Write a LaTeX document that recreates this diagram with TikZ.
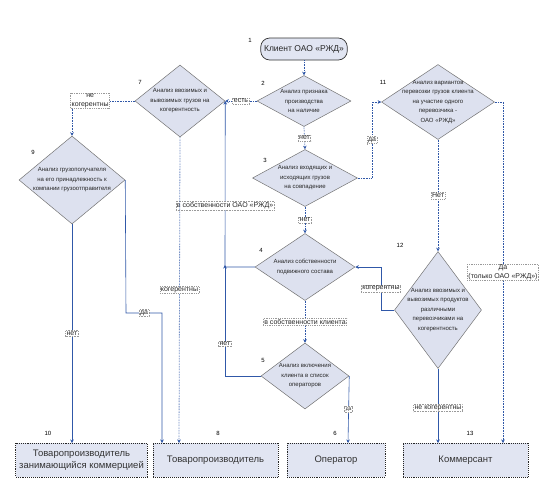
\documentclass[tikz,border=0pt]{standalone}
\usepackage{fontspec}
\setmainfont{Liberation Sans}
\usetikzlibrary{shapes.geometric,arrows.meta}
\definecolor{lineblue}{RGB}{48,88,168}
\definecolor{diafill}{RGB}{221,225,239}
\definecolor{boxfill}{RGB}{225,229,242}
\tikzset{
  dia/.style={diamond, draw=black!55, fill=diafill, line width=0.5pt, inner sep=0pt, aspect=1},
  dtext/.style={font=\fontsize{6}{9.5}\selectfont, align=center, inner sep=0pt, text=black!85},
  endbox/.style={rectangle, draw=black!85, densely dotted, line width=0.9pt, fill=boxfill, font=\fontsize{9.5}{12}\selectfont, align=center, text=black!80},
  startbox/.style={rectangle, rounded corners=9pt, draw=black!80, line width=0.7pt, fill=boxfill, font=\fontsize{8.5}{10}\selectfont, text=black!85},
  num/.style={font=\fontsize{6}{7}\selectfont, inner sep=0pt},
  lbl/.style={draw=black!40, densely dotted, fill=white, font=\fontsize{7}{8.5}\selectfont, inner sep=1pt, align=center, text=black!85},
  sl/.style={draw=lineblue, line width=0.6pt, -{Stealth[length=3.5pt,width=3.5pt]}},
  dl/.style={sl, densely dotted, line width=0.8pt},
}
\begin{document}
\begin{tikzpicture}[x=1pt,y=-1pt]
\useasboundingbox (0,0) rectangle (544,480);

% start node
\node[startbox, minimum width=84pt, minimum height=22pt] (n1) at (304,49) {Клиент ОАО «РЖД»};

% diamonds
\node[dia, minimum width=94pt, minimum height=51pt] (d2) at (304,101) {};
\node[dtext] at (d2) {Анализ признака\\производства\\на наличие};

\node[dia, minimum width=90pt, minimum height=72pt] (d7) at (180,101) {};
\node[dtext] at (d7) {Анализ ввозимых и\\вывозимых грузов на\\когерентность};

\node[dia, minimum width=105pt, minimum height=57pt] (d3) at (305,178) {};
\node[dtext] at (d3) {Анализ входящих и\\исходящих грузов\\на совпадение};

\node[dia, minimum width=113pt, minimum height=75pt] (d11) at (438,102) {};
\node[dtext] at (d11) {Анализ вариантов\\перевозки грузов клиента\\на участие одного\\перевозчика -\\ОАО «РЖД»};

\node[dia, minimum width=106pt, minimum height=88pt] (d9) at (72,180) {};
\node[dtext] at (d9) {Анализ грузополучателя\\на его принадлежность к\\компании грузоотправителя};

\node[dia, minimum width=100pt, minimum height=67pt] (d4) at (305,267) {};
\node[dtext] at (d4) {Анализ собственности\\подвижного состава};

\node[dia, minimum width=87pt, minimum height=117pt] (d12) at (438,310) {};
\node[dtext] at (d12) {Анализ ввозимых и\\вывозимых продуктов\\различными\\перевозчиками на\\когерентность};

\node[dia, minimum width=88pt, minimum height=66pt] (d5) at (305,376) {};
\node[dtext] at (d5) {Анализ включения\\клиента в список\\операторов};

% end boxes
\node[endbox, minimum width=125pt, minimum height=34pt] (b10) at (81.5,460) {Товаропроизводитель\\занимающийся коммерцией};
\node[endbox, minimum width=125pt, minimum height=34pt] (b8) at (215.5,460) {Товаропроизводитель};
\node[endbox, minimum width=98pt, minimum height=34pt] (b6) at (336,460) {Оператор};
\node[endbox, minimum width=125pt, minimum height=34pt] (b13) at (465.5,460) {Коммерсант};

% numbers
\node[num] (l1) at (250,40) {1};
\node[num] (l2) at (263,83) {2};
\node[num] (l3) at (265,160) {3};
\node[num] (l4) at (261,250) {4};
\node[num] (l5) at (263,360) {5};
\node[num] (l6) at (335,433) {6};
\node[num] (l7) at (140,82) {7};
\node[num] (l8) at (218,433) {8};
\node[num] (l9) at (33,152) {9};
\node[num] (l10) at (48,433) {10};
\node[num] (l11) at (383,82) {11};
\node[num] (l12) at (400,245) {12};
\node[num] (l13) at (470,433) {13};

% helper coordinates
\coordinate (c3r) at (372,178);
\coordinate (c11r) at (503,102);
\coordinate (c12l) at (381,310);
\coordinate (c4l) at (225,267);
\coordinate (c5l) at (225,376);
\coordinate (c7l) at (72,101);
\coordinate (c9r) at (126,313);
\coordinate (c9r2) at (162,313);
\coordinate (a10) at (72,443);
\coordinate (a8a) at (162,443);
\coordinate (a8b) at (179,443);
\coordinate (a6) at (348,443);
\coordinate (a13a) at (438,443);
\coordinate (a13b) at (503,443);

% connectors
\draw[dl] (n1) -- (d2);
\draw[dl] (d2.west) -- node[lbl]{есть} (d7.east);
\draw[dl] (d2.south) -- node[lbl]{нет} (d3.north);
\draw[dl] (d3.south) -- node[lbl]{нет} (d4.north);
\draw[dl] (d3.east) -- (c3r) -- node[lbl]{да} (c3r |- d11.west) -- (d11.west);
\draw[dl] (d11.south) -- node[lbl]{Нет} (d12.north);
\draw[dl] (d11.east) -- (c11r) -- node[lbl, pos=0.5]{Да\\(только ОАО «РЖД»)} (a13b);
\draw[sl] (d12.west) -- (c12l) -- node[lbl, pos=0.5]{когерентны} (c12l |- d4.east) -- (d4.east);
\draw[sl] (d12.south) -- node[lbl, pos=0.53]{не когерентны} (a13a);
\draw[dl] (d4.south) -- node[lbl]{в собственности клиента} (d5.north);
\draw[sl] (d4.west) -- (c4l) -- node[lbl, pos=0.37]{в собственности ОАО «РЖД»} (d7.east);
\draw[sl] (d5.west) -- (c5l) -- node[lbl, pos=0.29]{нет} ([yshift=2pt]c4l);
\draw[sl] (d5.east) -- node[lbl, font=\fontsize{5}{6}\selectfont]{да} (a6);
\draw[dl] (d7.west) -- node[lbl, pos=0.71]{не\\когерентны} (c7l) -- (d9.north);
\draw[dl] (d7.south) -- node[lbl]{когерентны} (a8b);
\draw[sl] (d9.south) -- node[lbl]{нет} (a10);
\draw[sl] (d9.east) -- (c9r) -- node[lbl]{да} (c9r2) -- (a8a);
\end{tikzpicture}
\end{document}
